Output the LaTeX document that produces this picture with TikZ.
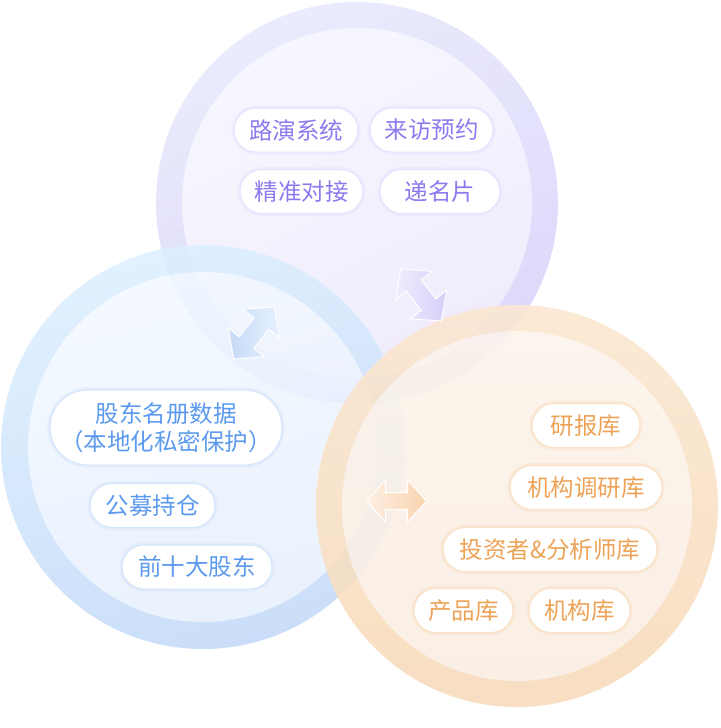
\documentclass[tikz,border=0pt]{standalone}
\usepackage{fontspec}
\newfontfamily\cjk{Noto Sans CJK SC}
\usetikzlibrary{shapes.misc}
\definecolor{purRingA}{HTML}{E8EAFD}
\definecolor{purRingB}{HTML}{DAD3FA}
\definecolor{purInA}{HTML}{F6F7FE}
\definecolor{purInB}{HTML}{EEEAFC}
\definecolor{bluRingA}{HTML}{DCEFFF}
\definecolor{bluRingB}{HTML}{C2D9F8}
\definecolor{bluInA}{HTML}{F2F9FF}
\definecolor{bluInB}{HTML}{E6EFFD}
\definecolor{orgRingA}{HTML}{FBE7D0}
\definecolor{orgRingB}{HTML}{F8DABA}
\definecolor{orgInA}{HTML}{FCF4EB}
\definecolor{orgInB}{HTML}{FAEDE1}
\definecolor{purText}{HTML}{8C7BEF}
\definecolor{bluText}{HTML}{5B9AEE}
\definecolor{orgText}{HTML}{EDA357}
\definecolor{purLine}{HTML}{E6E2FD}
\definecolor{bluLine}{HTML}{D4E5FB}
\definecolor{orgLine}{HTML}{FAE0C4}
\definecolor{bArrDark}{HTML}{C6DAF7}
\definecolor{bArrLight}{HTML}{E6F1FE}
\definecolor{pArrDark}{HTML}{D7CEF8}
\definecolor{pArrLight}{HTML}{EFEDFD}
\definecolor{oArrDark}{HTML}{FAD3AE}
\definecolor{oArrLight}{HTML}{FDF0E3}
\tikzset{
  pillbase/.style={rounded rectangle, fill=white, inner xsep=0pt, inner ysep=0pt,
    minimum height=44pt, line width=1pt, align=center,
    font=\cjk\fontsize{23.5}{28}\selectfont},
  ppill/.style={pillbase, draw=purLine, text=purText,
    preaction={draw=purLine, line width=5pt, draw opacity=0.45}},
  bpill/.style={pillbase, draw=bluLine, text=bluText,
    preaction={draw=bluLine, line width=5pt, draw opacity=0.45}},
  opill/.style={pillbase, draw=orgLine, text=orgText,
    preaction={draw=orgLine, line width=5pt, draw opacity=0.45}},
  arrowshape/.style={draw=white, line width=1pt},
}
\begin{document}
\begin{tikzpicture}[x=1pt,y=-1pt]
\useasboundingbox (0,0) rectangle (720,728);
\fill[white] (0,0) rectangle (720,728);

% purple circle
\begin{scope}[transparency group, opacity=0.9]
  \shade[top color=purRingA, bottom color=purRingB, shading angle=25]
    (357,203) circle [radius=201pt];
  \shade[top color=purInA, bottom color=purInB, shading angle=25]
    (357,203) circle [radius=175pt];
\end{scope}

% blue circle
\begin{scope}[transparency group, opacity=0.85]
  \shade[top color=bluRingA, bottom color=bluRingB, shading angle=15]
    (203,447) circle [radius=202pt];
  \shade[top color=bluInA, bottom color=bluInB, shading angle=15]
    (203,447) circle [radius=175pt];
\end{scope}

% orange circle
\begin{scope}[transparency group, opacity=0.88]
  \shade[top color=orgRingA, bottom color=orgRingB]
    (517,506) circle [radius=201pt];
  \shade[top color=orgInA, bottom color=orgInB]
    (517,506) circle [radius=175pt];
\end{scope}

% purple pills
\node[ppill, minimum width=124pt] (p1) at (296,130) {路演系统};
\node[ppill, minimum width=123pt] (p2) at (431.5,130) {来访预约};
\node[ppill, minimum width=123pt] (p3) at (301.5,191.5) {精准对接};
\node[ppill, minimum width=120pt] (p4) at (440,191.5) {递名片};

% blue pills
\node[bpill, minimum width=232pt, minimum height=75pt] (b1) at (166,427.5)
  {股东名册数据\\（本地化私密保护）};
\node[bpill, minimum width=125pt] (b2) at (152.5,505.5) {公募持仓};
\node[bpill, minimum width=150pt] (b3) at (197,567) {前十大股东};

% orange pills
\node[opill, minimum width=108pt] (o1) at (586,425.5) {研报库};
\node[opill, minimum width=152pt] (o2) at (586,487.5) {机构调研库};
\node[opill, minimum width=214pt] (o3) at (550,549.5) {投资者\&分析师库};
\node[opill, minimum width=99pt] (o4) at (463.5,610.5) {产品库};
\node[opill, minimum width=101pt] (o5) at (579.5,610.5) {机构库};

% double arrows
\coordinate (ab) at (254,333);
\coordinate (ap) at (421,295);
\coordinate (ao) at (396.5,501);
\begin{scope}[shift={(ab)}, rotate=52, scale=1.1]
  \shadedraw[arrowshape, left color=bArrDark, right color=bArrLight]
    (-30,0) -- (-11,-21) -- (-11,-8.5) -- (11,-8.5) -- (11,-21) -- (30,0)
    -- (11,21) -- (11,8.5) -- (-11,8.5) -- (-11,21) -- cycle;
\end{scope}
\begin{scope}[shift={(ap)}, rotate=-52, scale=1.1]
  \shadedraw[arrowshape, left color=pArrLight, right color=pArrDark]
    (-30,0) -- (-11,-21) -- (-11,-8.5) -- (11,-8.5) -- (11,-21) -- (30,0)
    -- (11,21) -- (11,8.5) -- (-11,8.5) -- (-11,21) -- cycle;
\end{scope}
\begin{scope}[shift={(ao)}]
  \shadedraw[arrowshape, left color=oArrLight, right color=oArrDark]
    (-30,0) -- (-11,-21) -- (-11,-8.5) -- (11,-8.5) -- (11,-21) -- (30,0)
    -- (11,21) -- (11,8.5) -- (-11,8.5) -- (-11,21) -- cycle;
\end{scope}
\end{tikzpicture}
\end{document}
